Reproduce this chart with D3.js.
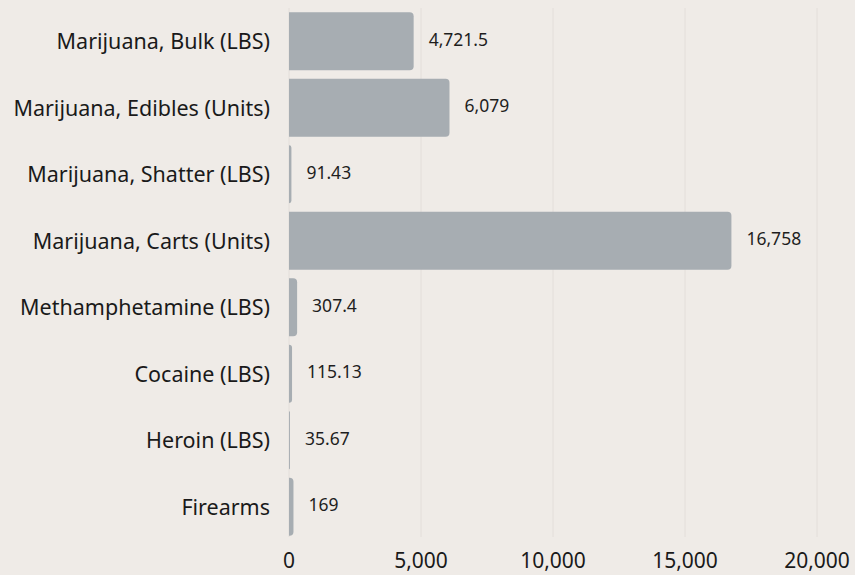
<!DOCTYPE html>
<html><head><meta charset="utf-8">
<script src="https://cdn.jsdelivr.net/npm/d3@7"></script>
<style>
html,body{margin:0;padding:0;background:#efebe7;}
svg{display:block;font-family:"Noto Sans",sans-serif;}
</style></head>
<body><svg id="c" width="855" height="575"></svg>
<script>
const categories = ["Marijuana, Bulk (LBS)","Marijuana, Edibles (Units)","Marijuana, Shatter (LBS)","Marijuana, Carts (Units)","Methamphetamine (LBS)","Cocaine (LBS)","Heroin (LBS)","Firearms"];
const values = [4721.5, 6079, 91.43, 16758, 307.4, 115.13, 35.67, 169];
const valueLabels = ["4,721.5","6,079","91.43","16,758","307.4","115.13","35.67","169"];
const tickValues = [0, 5000, 10000, 15000, 20000];

const svg = d3.select("#c");
const x = d3.scaleLinear().domain([0, 20000]).range([289, 817]);
const y = d3.scaleBand().domain(categories).range([8, 540]).paddingInner(0.13).paddingOuter(0.065);

// grid
svg.append("g").selectAll("line").data(tickValues).join("line")
  .attr("x1", d => x(d)).attr("x2", d => x(d))
  .attr("y1", 8).attr("y2", 537)
  .attr("stroke", "#e3deda").attr("stroke-width", 1);

function barPath(x0, x1, y0, h, r) {
  const w = x1 - x0;
  const rr = Math.min(r, w, h / 2);
  return `M${x0},${y0}H${x1 - rr}A${rr},${rr} 0 0 1 ${x1},${y0 + rr}V${y0 + h - rr}A${rr},${rr} 0 0 1 ${x1 - rr},${y0 + h}H${x0}Z`;
}

const data = categories.map((c, i) => ({c, v: values[i], l: valueLabels[i]}));

svg.append("g").selectAll("path").data(data).join("path")
  .attr("d", d => barPath(x(0), x(d.v), y(d.c), y.bandwidth(), 4))
  .attr("fill", "#a7adb2");

svg.append("g").selectAll("text").data(data).join("text")
  .attr("x", d => x(d.v) + 15)
  .attr("y", d => y(d.c) + y.bandwidth() / 2 + 4.5)
  .attr("font-size", 17.5)
  .attr("fill", "#1e1e1e")
  .text(d => d.l);

svg.append("g").selectAll("text").data(data).join("text")
  .attr("x", 270)
  .attr("y", d => y(d.c) + y.bandwidth() / 2 + 8)
  .attr("text-anchor", "end")
  .attr("font-size", 21.5)
  .attr("fill", "#1a1a1a")
  .text(d => d.c);

const fmt = d3.format(",");
svg.append("g").selectAll("text").data(tickValues).join("text")
  .attr("x", d => x(d))
  .attr("y", 568)
  .attr("text-anchor", "middle")
  .attr("font-size", 21)
  .attr("fill", "#1a1a1a")
  .text(d => fmt(d));
</script></body></html>
